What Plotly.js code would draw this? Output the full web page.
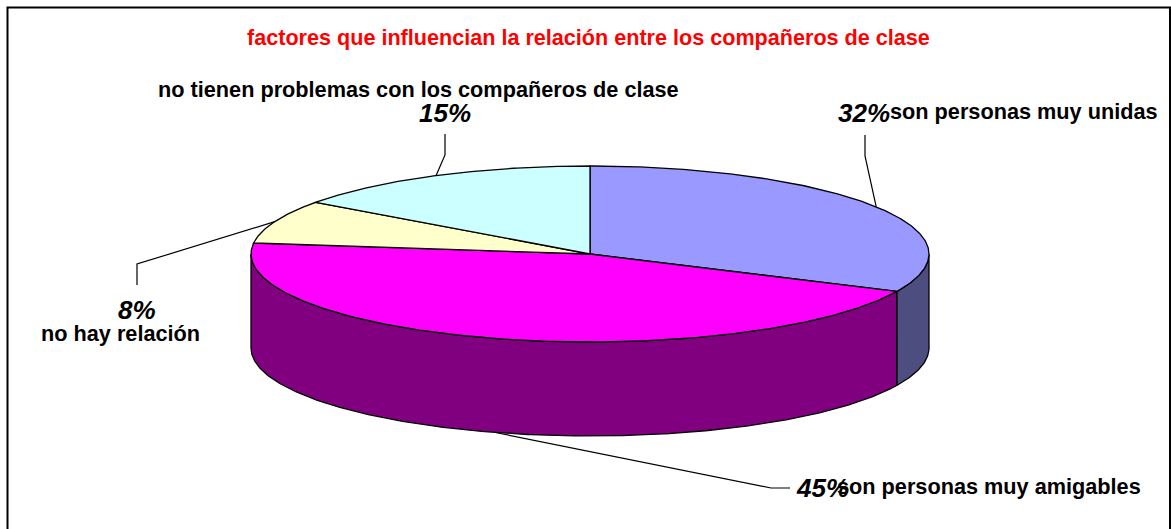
<!DOCTYPE html>
<html>
<head>
<meta charset="utf-8">
<script src="https://cdn.plot.ly/plotly-3.0.1.min.js"></script>
<style>html,body{margin:0;padding:0;background:#fff;overflow:hidden}#chart{width:1171px;height:529px}</style>
</head>
<body>
<div id="chart"></div>
<script>
const chartTitle = "factores que influencian la relación entre los compañeros de clase";
const categories = ["son personas muy unidas", "son personas muy amigables", "no hay relación", "no tienen problemas con los compañeros de clase"];
const values = [32, 45, 8, 15];
const topColors = ["#9999FF", "#FF00FF", "#FFFFCC", "#CCFFFF"];
const wallColors = ["#4D4D80", "#800080", "#808066", "#668080"];

const cx = 590, cy = 254, rx = 339, ry = 88, depth = 94;
const total = values.reduce((a, b) => a + b, 0);
const pt = (deg, dy) => {
  const r = deg * Math.PI / 180;
  return [cx + rx * Math.sin(r), cy - ry * Math.cos(r) + (dy || 0)];
};
const arc = (a, b, dy) => {
  const out = [];
  const n = Math.max(2, Math.ceil(Math.abs(b - a) / 0.5));
  for (let i = 0; i <= n; i++) out.push(pt(a + (b - a) * i / n, dy));
  return out;
};

const traces = [];
const spans = [];
let acc = 0;
values.forEach(v => { spans.push([acc / total * 360, (acc + v) / total * 360]); acc += v; });

// side walls (only the front half of the disc, 90 to 270 degrees, is visible)
spans.forEach((s, i) => {
  const a = Math.max(s[0], 90), b = Math.min(s[1], 270);
  if (b <= a) return;
  const p = arc(a, b, 0).concat(arc(b, a, depth));
  p.push(p[0]);
  traces.push({type: "scatter", mode: "lines", x: p.map(q => q[0]), y: p.map(q => q[1]),
    fill: "toself", fillcolor: wallColors[i], line: {color: "#000", width: 1.3},
    hoverinfo: "skip", showlegend: false, name: categories[i] + " (lateral)"});
});
// top faces
spans.forEach((s, i) => {
  const p = [[cx, cy]].concat(arc(s[0], s[1], 0));
  p.push([cx, cy]);
  traces.push({type: "scatter", mode: "lines", x: p.map(q => q[0]), y: p.map(q => q[1]),
    fill: "toself", fillcolor: topColors[i], line: {color: "#000", width: 1.3},
    hoverinfo: "text", text: categories[i] + ": " + values[i] + "%", showlegend: false, name: categories[i]});
});

// leader lines: label end and elbow for each slice; the pie end follows the slice's middle
const leaderEnds = [[865, 135], [790, 488], [137, 285], [445, 134]];
const leaderElbows = [[865, 156], [771, 488], [137, 264], [445, 155]];
const leaderDrop = [0, depth, 0, 0];
spans.forEach((s, i) => {
  const m = pt((s[0] + s[1]) / 2, leaderDrop[i]);
  const x = [leaderEnds[i][0], leaderElbows[i][0], m[0]];
  const y = [leaderEnds[i][1], leaderElbows[i][1], m[1]];
  traces.push({type: "scatter", mode: "lines", x, y, line: {color: "#000", width: 1.2},
    hoverinfo: "skip", showlegend: false, name: "guía " + categories[i]});
});

const FONT = "'Liberation Sans', Arial, sans-serif";
const pctPos = [[864, 113], [822, 488], [137, 310], [445, 113]];
const namePos = [[1024, 111], [989, 486], [120, 333], [418, 89]];
const annotations = [];
values.forEach((v, i) => {
  annotations.push({x: namePos[i][0], y: namePos[i][1], xref: "x", yref: "y", text: "<b>" + categories[i] + "</b>",
    showarrow: false, xanchor: "center", yanchor: "middle", font: {family: FONT, size: 21.7, color: "#000"}});
});
values.forEach((v, i) => {
  annotations.push({x: pctPos[i][0], y: pctPos[i][1], xref: "x", yref: "y", text: "<b><i>" + v + "%</i></b>",
    showarrow: false, xanchor: "center", yanchor: "middle", font: {family: FONT, size: 26, color: "#000"}});
});
annotations.push({x: 588, y: 37, xref: "x", yref: "y", text: "<b>" + chartTitle + "</b>",
  showarrow: false, xanchor: "center", yanchor: "middle", font: {family: FONT, size: 21.6, color: "#FF0000"}});

const layout = {
  width: 1171, height: 529, margin: {l: 0, r: 0, t: 0, b: 0},
  paper_bgcolor: "#fff", plot_bgcolor: "#fff", showlegend: false,
  xaxis: {range: [0, 1171], visible: false, fixedrange: true},
  yaxis: {range: [529, 0], visible: false, fixedrange: true},
  shapes: [{type: "rect", xref: "x", yref: "y", x0: 7.5, y0: 7.5, x1: 1170, y1: 540, line: {color: "#000", width: 2}, fillcolor: "rgba(0,0,0,0)", layer: "below"}],
  annotations
};
Plotly.newPlot("chart", traces, layout, {displayModeBar: false, staticPlot: true});
</script>
</body>
</html>
